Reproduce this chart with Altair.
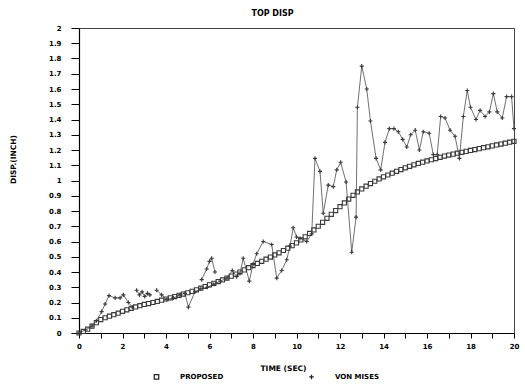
import altair as alt
import pandas as pd

# ---- data ----
prop_t = [round(0.2 * i, 1) for i in range(101)]
prop_v = [0.000, 0.010, 0.025, 0.045, 0.068, 0.088, 0.100, 0.110, 0.120, 0.130,
          0.142, 0.152, 0.162, 0.171, 0.179, 0.187, 0.193, 0.200, 0.207, 0.215,
          0.223, 0.231, 0.239, 0.247, 0.255, 0.264, 0.273, 0.283, 0.294, 0.305,
          0.316, 0.326, 0.337, 0.348, 0.360, 0.373, 0.386, 0.400, 0.414, 0.428,
          0.442, 0.456, 0.470, 0.484, 0.498, 0.512, 0.526, 0.541, 0.556, 0.573,
          0.591, 0.610, 0.631, 0.653, 0.676, 0.700, 0.726, 0.752, 0.778, 0.803,
          0.828, 0.853, 0.878, 0.903, 0.925, 0.945, 0.963, 0.980, 0.995, 1.010,
          1.024, 1.036, 1.048, 1.060, 1.072, 1.083, 1.093, 1.103, 1.112, 1.120,
          1.128, 1.136, 1.144, 1.152, 1.160, 1.167, 1.173, 1.179, 1.185, 1.191,
          1.197, 1.203, 1.209, 1.215, 1.221, 1.227, 1.233, 1.239, 1.245, 1.251,
          1.257]

vm_a_t = [0, 0.3, 0.6, 0.8, 1.04, 1.2, 1.38, 1.66, 1.89, 2.04, 2.27, 2.45]
vm_a_v = [0, 0.02, 0.045, 0.08, 0.14, 0.19, 0.245, 0.23, 0.23, 0.25, 0.20, 0.17]

vm_b_t = [2.65, 2.78, 2.9, 3.02, 3.15, 3.26]
vm_b_v = [0.28, 0.25, 0.27, 0.24, 0.26, 0.25]

vm_c_t = [3.57, 3.8, 4.03, 4.34, 4.64, 4.87, 5.03, 5.33, 5.6, 5.9, 6.2, 6.5, 6.8,
          7.05, 7.25, 7.4, 7.55, 7.83, 8.0, 8.17, 8.47, 8.86, 9.09, 9.32, 9.55,
          9.7, 9.85, 10.0, 10.16, 10.47, 10.7, 10.85, 11.08, 11.23, 11.46, 11.69,
          11.85, 12.03, 12.28, 12.54, 12.74, 12.8, 13.0, 13.23, 13.4, 13.66,
          13.87, 14.07, 14.27, 14.48, 14.68, 14.88, 15.07, 15.25, 15.46, 15.65,
          15.83, 16.1, 16.29, 16.47, 16.63, 16.83, 17.06, 17.29, 17.49, 17.67,
          17.85, 18.0, 18.25, 18.44, 18.67, 18.87, 19.05, 19.23, 19.46, 19.66,
          19.89, 20.0]
vm_c_v = [0.28, 0.25, 0.22, 0.23, 0.25, 0.26, 0.17, 0.27, 0.29, 0.30, 0.32, 0.34,
          0.36, 0.41, 0.37, 0.39, 0.49, 0.34, 0.45, 0.52, 0.60, 0.58, 0.36, 0.41,
          0.48, 0.57, 0.69, 0.63, 0.62, 0.60, 0.65, 1.145, 1.06, 0.785, 0.97,
          0.96, 1.07, 1.12, 0.99, 0.53, 0.76, 1.48, 1.75, 1.60, 1.39, 1.145,
          1.07, 1.25, 1.34, 1.34, 1.32, 1.27, 1.22, 1.30, 1.33, 1.20, 1.32, 1.31,
          1.17, 1.17, 1.42, 1.41, 1.33, 1.29, 1.145, 1.42, 1.59, 1.48, 1.40,
          1.46, 1.42, 1.45, 1.57, 1.45, 1.41, 1.55, 1.55, 1.34]

vm_d_t = [5.64, 5.87, 6.0, 6.1, 6.25]
vm_d_v = [0.35, 0.42, 0.47, 0.49, 0.40]

series_names = ["PROPOSED", "VON MISES"]
x_ticks = list(range(0, 21))
y_ticks = [round(0.1 * i, 1) for i in range(21)]

# ---- tables ----
prop = pd.DataFrame({"t": prop_t, "v": prop_v, "series": series_names[0], "seg": "p"})
vm_parts = []
for name, ts, vs in [("a", vm_a_t, vm_a_v), ("b", vm_b_t, vm_b_v),
                     ("c", vm_c_t, vm_c_v), ("d", vm_d_t, vm_d_v)]:
    vm_parts.append(pd.DataFrame({"t": ts, "v": vs, "series": series_names[1], "seg": name}))
vm = pd.concat(vm_parts, ignore_index=True)
allpts = pd.concat([prop, vm], ignore_index=True)

FONT = "DejaVu Sans"

x_enc = alt.X("t:Q", scale=alt.Scale(domain=[0, 20], nice=False),
              axis=alt.Axis(values=x_ticks, title="TIME (SEC)",
                            labelExpr="datum.value % 2 == 0 ? datum.label : ''",
                            grid=False, tickSize=5, labelPadding=4,
                            labelFlush=False, labelOverlap=False,
                            titleX=204, titleY=35, titleBaseline="middle",
                            titleAlign="center"))
y_enc = alt.Y("v:Q", scale=alt.Scale(domain=[0, 2], nice=False),
              axis=alt.Axis(values=y_ticks, format=".1~f", title="DISP.(INCH)",
                            grid=False, tickSize=8, labelPadding=10,
                            labelFlush=False, labelOverlap=False,
                            titleX=-66, titleY=131, titleAngle=-90,
                            titleBaseline="middle", titleAlign="center"))

line = alt.Chart(vm).mark_line(color="#606060", strokeWidth=0.9).encode(
    x=x_enc, y=y_enc, detail="seg:N"
)

pts = alt.Chart(allpts).mark_point(filled=False, strokeWidth=1.1, size=17,
                                   color="#3a3a3a", opacity=1).encode(
    x=x_enc, y=y_enc,
    shape=alt.Shape("series:N",
                    scale=alt.Scale(domain=series_names,
                                    range=["square", "M-1,0H1M0,-1V1"]),
                    legend=alt.Legend(title=None, orient="none", direction="horizontal",
                                      legendX=74, legendY=345, labelOffset=20,
                                      columnPadding=82, symbolSize=20,
                                      symbolStrokeColor="#222222",
                                      symbolStrokeWidth=1.2,
                                      symbolFillColor="transparent"))
)

chart = alt.layer(line, pts).properties(
    width=435, height=305,
    title=alt.TitleParams("TOP DISP", fontSize=8, font=FONT, fontWeight="bold",
                          anchor="middle", dx=-24, offset=6),
    autosize=alt.AutoSizeParams(type="none"),
    padding={"left": 79, "top": 28, "right": 11, "bottom": 55},
).configure_view(stroke="#444444", strokeWidth=1).configure_axis(
    domainColor="#000000", tickColor="#000000", labelColor="#000000",
    titleColor="#000000", labelFont=FONT, titleFont=FONT, labelFontSize=7,
    labelFontWeight="bold", titleFontSize=7.5, titleFontWeight="bold",
    domainWidth=1.2, tickWidth=1
).configure_legend(labelFont=FONT, labelFontSize=7, labelFontWeight="bold",
                   labelColor="#000000")

chart.save("out.html", embed_options={"renderer": "svg", "actions": False})
